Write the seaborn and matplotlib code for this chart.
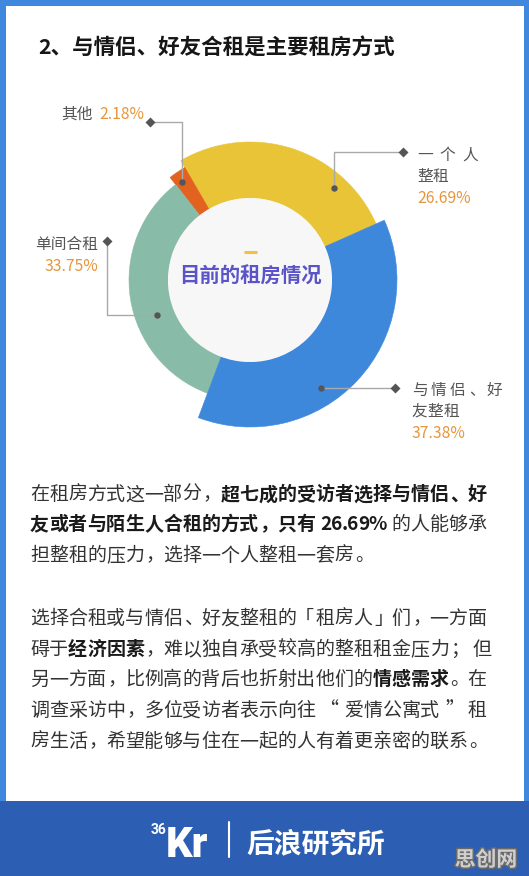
import unicodedata
import numpy as np
import matplotlib
matplotlib.use("Agg")
import matplotlib.pyplot as plt
import seaborn as sns
from matplotlib.patches import Rectangle
import matplotlib.patheffects as pe

# ---------------- data ----------------
categories = ["一个人整租", "其他", "单间合租", "与情侣、好友整租"]
shares = [26.69, 2.18, 33.75, 37.38]
share_labels = ["26.69%", "2.18%", "33.75%", "37.38%"]
colors = ["#e9c437", "#e2621f", "#89bba9", "#3e88dc"]

title = "2、与情侣、好友合租是主要租房方式"
center_title = "目前的租房情况"
body_lines = [
    "在租房方式这一部分，**超七成的受访者选择与情侣、好**",
    "**友或者与陌生人合租的方式，只有 26.69%** 的人能够承",
    "担整租的压力，选择一个人整租一套房。",
    "选择合租或与情侣、好友整租的「租房人」们，一方面",
    "碍于**经济因素**，难以独自承受较高的整租租金压力； 但",
    "另一方面，比例高的背后也折射出他们的**情感需求**。在",
    "调查采访中，多位受访者表示向往 “ 爱情公寓式 ” 租",
    "房生活，希望能够与住在一起的人有着更亲密的联系。",
]

# ---------------- style / layout ----------------
outer_r = [138, 130, 121, 147]   # outer radius (px) of each ring piece
INNER_R = 82
START_DEG = 24
W, H = 529, 876
CX, CY, RMAX = 250, 280, 160
body_y = [493, 523, 554, 617, 648, 678, 709, 740]

sns.set_theme(style="white")
FONT = ['Noto Sans CJK SC', 'DejaVu Sans']
plt.rcParams['font.family'] = FONT

fig = plt.figure(figsize=(W / 100, H / 100), dpi=100)
bg = fig.add_axes([0, 0, 1, 1])
bg.set_xlim(0, W); bg.set_ylim(H, 0); bg.axis('off')
bg.add_patch(Rectangle((0, 0), W, H, color='#3f88dd', lw=0))
bg.add_patch(Rectangle((6, 6), W - 11, 801 - 6, color='white', lw=0))
bg.add_patch(Rectangle((0, 801), W, H - 801, color='#2c5fb3', lw=0))

# ---------------- donut (polar bars) ----------------
pax = fig.add_axes([(CX - RMAX) / W, (H - CY - RMAX) / H, 2 * RMAX / W, 2 * RMAX / H],
                   projection='polar', facecolor='none')
pax.set_ylim(0, RMAX)
pax.set_axis_off()
fracs = np.array(shares) / np.sum(shares)
widths = 2 * np.pi * fracs
starts = np.deg2rad(START_DEG) + np.concatenate([[0], np.cumsum(widths)[:-1]])
pax.bar(starts, np.array(outer_r) - INNER_R, width=widths, bottom=INNER_R,
        align='edge', color=colors, edgecolor=colors, linewidth=0.4)
pax.bar(0, INNER_R, width=2 * np.pi, bottom=0, color='#f7f7f7', linewidth=0)

# ---------------- overlay ----------------
ax = fig.add_axes([0, 0, 1, 1], facecolor='none')
ax.set_xlim(0, W); ax.set_ylim(H, 0); ax.axis('off')

LEFT_PUNCT = set('，。、；：」”）！？')
RIGHT_PUNCT = set('「“（')


def adv(c, em, bold=False):
    if c == ' ':
        return 0.25 * em
    if c.isdigit():
        return (0.58 if bold else 0.555) * em
    if c == '.':
        return 0.27 * em
    if c == '%':
        return (0.9 if bold else 0.86) * em
    if unicodedata.east_asian_width(c) in ('W', 'F') or c in '“”':
        return em
    return 0.55 * em


def draw_chars(x, yc, text, fs, color, bold_color=None, gap=0.0, all_bold=False):
    em = fs * 100 / 72
    base = yc + 0.38 * em
    cx = x
    for i, part in enumerate(text.split('**')):
        bold = all_bold or (i % 2 == 1)
        for c in part:
            a = adv(c, em, bold)
            if c != ' ':
                if c in LEFT_PUNCT:
                    hx, ha = cx + 0.08 * em, 'left'
                elif c in RIGHT_PUNCT:
                    hx, ha = cx + a - 0.08 * em, 'right'
                else:
                    hx, ha = cx + a / 2, 'center'
                ax.text(hx, base, c, ha=ha, va='baseline', fontsize=fs,
                        color=(bold_color if (bold and bold_color) else color),
                        fontweight='bold' if bold else 'normal', family=FONT)
            cx += a + gap
    return cx


# title
ax.text(38, 55, title, fontsize=15.5, fontweight='bold', color='#161616',
        ha='left', va='baseline', family=FONT)

# center of donut
ax.plot([243.5, 256.5], [252, 252], color='#f3c13c', lw=2.2, solid_capstyle='butt')
ax.text(CX, 283, center_title, fontsize=14.7, fontweight='bold', color='#5a54c8',
        ha='center', va='baseline', family=FONT)

# leader lines
leaders = [
    [(403, 152), (334, 152), (334, 188)],
    [(150, 122), (182, 122), (182, 182)],
    [(107, 241), (107, 315), (157, 315)],
    [(395, 388), (321, 388)],
]
for pts in leaders:
    xs, ys = zip(*pts)
    ax.plot(xs, ys, color='#a9a9a9', lw=1.0, zorder=3)
    ax.plot(xs[0], ys[0], marker='D', ms=5.2, color='#555555', zorder=4, mec='none')
    ax.plot(xs[-1], ys[-1], marker='o', ms=4.6, color='#555555', zorder=4, mec='none')

LAB_FS = 11.3
GRAY = '#555555'
ORANGE = '#e8953a'
em_l = LAB_FS * 100 / 72

# 一个人整租
draw_chars(417, 154, "一个人", LAB_FS, GRAY, gap=7.0)
draw_chars(417, 175, "整租", LAB_FS, GRAY)
ax.text(417, 197 + 0.38 * em_l, share_labels[0], fontsize=LAB_FS, color=ORANGE,
        ha='left', va='baseline', family=FONT)

# 其他
ax.text(61, 113 + 0.38 * em_l, "其他", fontsize=LAB_FS, color=GRAY,
        ha='left', va='baseline', family=FONT)
ax.text(99, 113 + 0.38 * em_l, share_labels[1], fontsize=LAB_FS, color=ORANGE,
        ha='left', va='baseline', family=FONT)

# 单间合租
ax.text(98, 243 + 0.38 * em_l, "单间合租", fontsize=LAB_FS, color=GRAY,
        ha='right', va='baseline', family=FONT)
ax.text(98, 265 + 0.38 * em_l, share_labels[2], fontsize=LAB_FS, color=ORANGE,
        ha='right', va='baseline', family=FONT)

# 与情侣、好友整租
draw_chars(412, 389, "与情侣、好", LAB_FS, GRAY, gap=3.0)
draw_chars(412, 410, "友整租", LAB_FS, GRAY)
ax.text(412, 432 + 0.38 * em_l, share_labels[3], fontsize=LAB_FS, color=ORANGE,
        ha='left', va='baseline', family=FONT)

# body text
for line, y in zip(body_lines, body_y):
    draw_chars(30, y, line, 13.7, '#333333', bold_color='#1a1a1a')

# footer
ax.text(151, 834, "36", fontsize=10, fontweight='bold', color='white',
        ha='left', va='baseline', family=['Roboto', 'DejaVu Sans'])
ax.text(166, 857, "Kr", fontsize=30, fontweight='heavy', color='white',
        ha='left', va='baseline', family=['Roboto', 'DejaVu Sans'])
ax.plot([229, 229], [822, 857], color='white', lw=1.5)
ax.text(246, 852, "后浪研究所", fontsize=20, fontweight='bold', color='white',
        ha='left', va='baseline', family=FONT)
ax.text(486, 866, "思创网", fontsize=15, fontweight='bold', color='#cfcfcf',
        ha='center', va='baseline', family=FONT,
        path_effects=[pe.withStroke(linewidth=2.2, foreground='#6a6a6a')])

fig.savefig("out.png", dpi=100)
